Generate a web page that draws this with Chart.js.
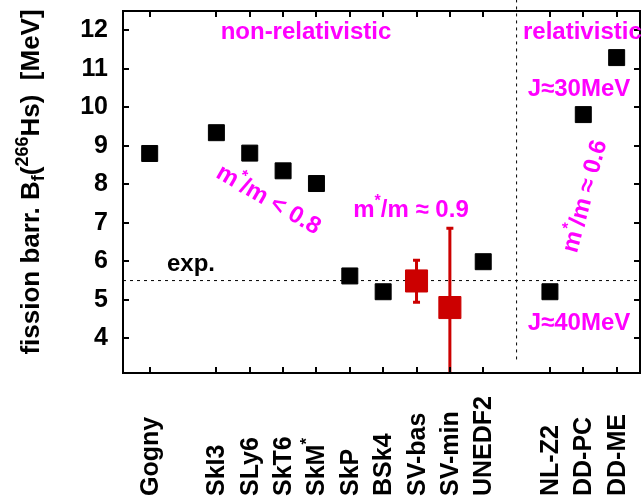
<!DOCTYPE html>
<html>
<head>
<meta charset="utf-8">
<script src="https://cdn.jsdelivr.net/npm/chart.js@4"></script>
<style>
  html, body { margin: 0; padding: 0; background: #fff; }
  canvas { display: block; }
</style>
</head>
<body>
<canvas id="c" width="641" height="499"></canvas>
<script>
const FONT = '"Liberation Sans", Arial, Helvetica, sans-serif';

// parametrizations and their slots along the x axis
const modelLabels = ['Gogny', 'SkI3', 'SLy6', 'SkT6', 'SkM*', 'SkP', 'BSk4', 'SV-bas', 'SV-min', 'UNEDF2', 'NL-Z2', 'DD-PC', 'DD-ME'];
const modelSlots  = [1, 3, 4, 5, 6, 7, 8, 9, 10, 11, 13, 14, 15];

// fission barriers (MeV) of the standard parametrizations
const plainSlots    = [1, 3, 4, 5, 6, 7, 8, 11, 13, 14, 15];
const plainBarriers = [8.80, 9.34, 8.81, 8.35, 8.02, 5.62, 5.21, 5.99, 5.21, 9.81, 11.29];

// SV fits with their uncertainty ranges
const fitSlots    = [9, 10];
const fitBarriers = [5.49, 4.80];
const fitLow      = [4.94, 2.75];
const fitHigh     = [6.03, 6.86];

// experimental barrier and the non-relativistic / relativistic divider
const expBarrier   = 5.5;
const dividerSlot  = 12;
const dividerSpan  = [12.8, 3.35];

const yTicks = [4, 5, 6, 7, 8, 9, 10, 11, 12];
const xRange = [0.2, 15.7];
const yRange = [3.1, 12.5];

const MAGENTA = '#ff00ff';
const RED = '#cc0000';

function font(size) { return `bold ${size}px ${FONT}`; }

function richWidth(ctx, segs) {
  let w = 0;
  for (const s of segs) { ctx.font = font(s.size); w += ctx.measureText(s.t).width; }
  return w;
}

function drawRich(ctx, segs, x, y, align) {
  const w = richWidth(ctx, segs);
  let cx = align === 'center' ? x - w / 2 : align === 'right' ? x - w : x;
  ctx.textAlign = 'left';
  ctx.textBaseline = 'alphabetic';
  for (const s of segs) {
    ctx.font = font(s.size);
    ctx.fillText(s.t, cx, y + (s.dy || 0));
    cx += ctx.measureText(s.t).width;
  }
}

function starSegs(base, rest, size) {
  return [{ t: base, size: size }, { t: '*', size: Math.round(size * 0.66), dy: -size * 0.45 }, { t: rest, size: size }];
}

const decor = {
  id: 'decor',
  beforeDatasetsDraw(chart) {
    const { ctx, chartArea: a, scales: { x, y } } = chart;
    ctx.save();
    ctx.beginPath();
    ctx.rect(a.left, a.top, a.right - a.left, a.bottom - a.top);
    ctx.clip();
    ctx.strokeStyle = RED;
    ctx.lineWidth = 3;
    fitSlots.forEach((s, i) => {
      const px = x.getPixelForValue(s);
      const lo = y.getPixelForValue(fitLow[i]);
      const hi = y.getPixelForValue(fitHigh[i]);
      ctx.beginPath();
      ctx.moveTo(px, lo); ctx.lineTo(px, hi);
      ctx.moveTo(px - 3.5, lo); ctx.lineTo(px + 3.5, lo);
      ctx.moveTo(px - 3.5, hi); ctx.lineTo(px + 3.5, hi);
      ctx.stroke();
    });
    ctx.restore();
  },
  afterDraw(chart) {
    const { ctx, chartArea: a, scales: { x, y } } = chart;
    ctx.save();

    // frame with inward ticks on all four sides
    ctx.strokeStyle = '#000';
    ctx.lineWidth = 2;
    ctx.strokeRect(a.left, a.top, a.right - a.left, a.bottom - a.top);
    ctx.beginPath();
    const tl = 6;
    modelSlots.forEach(s => {
      const px = Math.round(x.getPixelForValue(s));
      ctx.moveTo(px, a.bottom); ctx.lineTo(px, a.bottom - tl);
      ctx.moveTo(px, a.top); ctx.lineTo(px, a.top + tl);
    });
    yTicks.forEach(v => {
      const py = Math.round(y.getPixelForValue(v));
      ctx.moveTo(a.left, py); ctx.lineTo(a.left + tl, py);
      ctx.moveTo(a.right, py); ctx.lineTo(a.right - tl, py);
    });
    ctx.stroke();

    // model names, rotated, reading upward from the bottom edge
    ctx.fillStyle = '#000';
    modelLabels.forEach((name, i) => {
      const px = x.getPixelForValue(modelSlots[i]);
      ctx.save();
      ctx.translate(px, 496);
      ctx.rotate(-Math.PI / 2);
      const segs = name.endsWith('*')
        ? [{ t: name.slice(0, -1), size: 25 }, { t: '*', size: 17, dy: -12 }]
        : [{ t: name, size: 25 }];
      drawRich(ctx, segs, 0, 8, 'left');
      ctx.restore();
    });

    // y axis title
    ctx.save();
    ctx.translate(30, 182);
    ctx.rotate(-Math.PI / 2);
    drawRich(ctx, [
      { t: 'fission barr. B', size: 26 },
      { t: 'f', size: 18, dy: 5 },
      { t: '(', size: 26 },
      { t: '266', size: 18, dy: -11 },
      { t: 'Hs)  [MeV]', size: 26 }
    ], 0, 9, 'center');
    ctx.restore();

    // annotations
    ctx.fillStyle = MAGENTA;
    drawRich(ctx, [{ t: 'non-relativistic', size: 24 }], 306, 39, 'center');
    drawRich(ctx, [{ t: 'relativistic', size: 24 }], 523, 39, 'left');
    drawRich(ctx, [{ t: 'J≈30MeV', size: 24 }], 579, 96, 'center');
    drawRich(ctx, [{ t: 'J≈40MeV', size: 24 }], 579, 330, 'center');
    drawRich(ctx, starSegs('m', '/m ≈ 0.9', 24), 411, 217, 'center');

    ctx.save();
    ctx.translate(269, 199);
    ctx.rotate(30 * Math.PI / 180);
    drawRich(ctx, starSegs('m', '/m < 0.8', 24), 0, 8, 'center');
    ctx.restore();

    ctx.save();
    ctx.translate(584, 196);
    ctx.rotate(-75 * Math.PI / 180);
    drawRich(ctx, starSegs('m', '/m ≈ 0.6', 24), 0, 8, 'center');
    ctx.restore();

    ctx.fillStyle = '#000';
    drawRich(ctx, [{ t: 'exp.', size: 24 }], 167, 271, 'left');

    ctx.restore();
  }
};

new Chart(document.getElementById('c'), {
  type: 'scatter',
  data: {
    datasets: [
      {
        data: plainSlots.map((s, i) => ({ x: s, y: plainBarriers[i] })),
        pointStyle: 'rect',
        pointRadius: 11.3,
        pointHoverRadius: 11.3,
        backgroundColor: '#000',
        borderColor: '#000',
        borderWidth: 1,
        order: 1
      },
      {
        data: fitSlots.map((s, i) => ({ x: s, y: fitBarriers[i] })),
        pointStyle: 'rect',
        pointRadius: 15.6,
        pointHoverRadius: 15.6,
        backgroundColor: RED,
        borderColor: RED,
        borderWidth: 1,
        order: 2
      },
      {
        data: [{ x: xRange[0], y: expBarrier }, { x: xRange[1], y: expBarrier }],
        showLine: true,
        borderColor: '#000',
        borderWidth: 1,
        borderDash: [3, 4],
        pointRadius: 0,
        order: 10
      },
      {
        data: [{ x: dividerSlot, y: dividerSpan[0] }, { x: dividerSlot, y: dividerSpan[1] }],
        showLine: true,
        borderColor: '#000',
        borderWidth: 1,
        borderDash: [3, 4],
        pointRadius: 0,
        clip: false,
        order: 11
      }
    ]
  },
  options: {
    responsive: false,
    animation: false,
    events: [],
    layout: { autoPadding: false, padding: { top: 11, right: 1, left: 0, bottom: 0 } },
    plugins: { legend: { display: false }, tooltip: { enabled: false } },
    scales: {
      x: {
        type: 'linear',
        min: xRange[0],
        max: xRange[1],
        grid: { display: false, drawTicks: false },
        border: { display: false },
        ticks: { display: false },
        afterFit(scale) {
          scale.height = 126;
          scale.paddingLeft = 0; scale.paddingRight = 0;
        }
      },
      y: {
        type: 'linear',
        min: yRange[0],
        max: yRange[1],
        grid: { display: false, drawTicks: false },
        border: { display: false },
        afterBuildTicks(scale) { scale.ticks = yTicks.map(v => ({ value: v })); },
        ticks: {
          color: '#000',
          padding: 15,
          font: { family: FONT, size: 25, weight: 'bold' }
        },
        afterFit(scale) {
          scale.width = 123;
          scale.paddingTop = 0; scale.paddingBottom = 0;
        }
      }
    }
  },
  plugins: [decor]
});
</script>
</body>
</html>
